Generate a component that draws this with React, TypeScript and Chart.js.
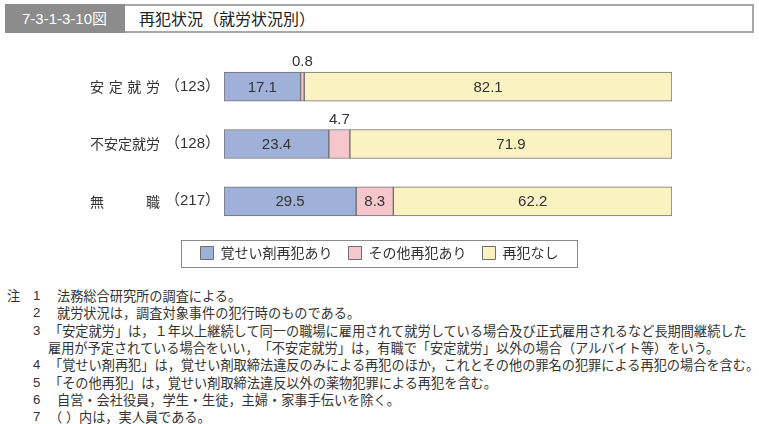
import React, { useEffect, useRef } from "react";
import { Chart, registerables } from "chart.js";

Chart.register(...registerables);

const categories = ["安定就労", "不安定就労", "無職"];
const counts = [123, 128, 217];
const seriesNames = ["覚せい剤再犯あり", "その他再犯あり", "再犯なし"];
const stimulantReoffense = [17.1, 23.4, 29.5];
const otherReoffense = [0.8, 4.7, 8.3];
const noReoffense = [82.1, 71.9, 62.2];
const seriesColors = ["#9fb1d8", "#f6c6cd", "#faf2c0"];

const notes = [
  { num: "1", parts: [{ t: "法務総合研究所の調査による。", x: 57 }] },
  { num: "2", parts: [{ t: "就労状況は，調査対象事件の犯行時のものである。", x: 57 }] },
  { num: "3", parts: [{ t: "「安定就労」は，１年以上継続して同一の職場に雇用されて就労している場合及び正式雇用されるなど長期間継続した", x: 49 }] },
  { num: "", parts: [{ t: "雇用が予定されている場合をいい，「不安定就労」は，有職で「安定就労」以外の場合（アルバイト等）をいう。", x: 48 }] },
  { num: "4", parts: [{ t: "「覚せい剤再犯」は，覚せい剤取締法違反のみによる再犯のほか，これとその他の罪名の犯罪による再犯の場合を含む。", x: 49 }] },
  { num: "5", parts: [{ t: "「その他再犯」は，覚せい剤取締法違反以外の薬物犯罪による再犯を含む。", x: 49 }] },
  { num: "6", parts: [{ t: "自営・会社役員，学生・生徒，主婦・家事手伝いを除く。", x: 57 }] },
  { num: "7", parts: [{ t: "（", x: 49 }, { t: "）", x: 66 }, { t: "内は，実人員である。", x: 79 }] },
];

const FONT = "'Liberation Sans', 'Noto Sans CJK JP', sans-serif";
const CJK = "'Noto Sans CJK JP', sans-serif";

const labelPlugin = {
  id: "customLabels",
  afterDraw(chart: any) {
    const ctx = chart.ctx;
    const yScale = chart.scales.y;
    ctx.save();
    ctx.fillStyle = "#333";
    ctx.textBaseline = "middle";
    categories.forEach((name, i) => {
      const y = yScale.getPixelForValue(i);
      ctx.font = `14px ${CJK}`;
      const chars = Array.from(name);
      const left = 90;
      const right = 160;
      const cw = 14;
      const gap = chars.length > 1 ? (right - left - chars.length * cw) / (chars.length - 1) : 0;
      ctx.textAlign = "left";
      chars.forEach((c, k) => {
        ctx.fillText(c, left + k * (cw + gap), y);
      });
      ctx.font = `15px ${FONT}`;
      ctx.fillText("（" + counts[i] + "）", 165, y);
    });
    ctx.font = `15px ${FONT}`;
    ctx.textAlign = "center";
    chart.data.datasets.forEach((ds: any, di: number) => {
      const meta = chart.getDatasetMeta(di);
      meta.data.forEach((el: any, i: number) => {
        const v = ds.data[i];
        const cx = (el.x + el.base) / 2;
        const text = v.toFixed(1);
        if (v < 5) {
          ctx.fillText(text, cx, el.y - el.height / 2 - 10);
        } else {
          ctx.fillText(text, cx, el.y + 1);
        }
      });
    });
    const lg = chart.legend;
    if (lg && lg.legendHitBoxes && lg.legendHitBoxes.length) {
      const hb = lg.legendHitBoxes;
      const first = hb[0];
      const last = hb[hb.length - 1];
      const x0 = first.left - 20;
      const x1 = last.left + last.width + 18;
      const y0 = first.top - 6.5;
      const y1 = first.top + first.height + 6.5;
      ctx.strokeStyle = "#8a8a8a";
      ctx.lineWidth = 1;
      ctx.strokeRect(Math.round(x0) + 0.5, Math.round(y0) + 0.5, Math.round(x1 - x0), Math.round(y1 - y0));
    }
    ctx.restore();
  },
};

function BarChart() {
  const ref = useRef<HTMLCanvasElement | null>(null);
  useEffect(() => {
    if (!ref.current) return;
    const chart = new Chart(ref.current, {
      type: "bar",
      data: {
        labels: categories,
        datasets: [
          { label: seriesNames[0], data: stimulantReoffense, backgroundColor: seriesColors[0] },
          { label: seriesNames[1], data: otherReoffense, backgroundColor: seriesColors[1] },
          { label: seriesNames[2], data: noReoffense, backgroundColor: seriesColors[2] },
        ].map((d) => ({
          ...d,
          borderColor: "#6e6e6e",
          borderWidth: 1,
          borderSkipped: false,
          barThickness: 29,
        })),
      },
      options: {
        indexAxis: "y",
        animation: false,
        responsive: false,
        maintainAspectRatio: false,
        layout: { padding: { top: 18, bottom: 2, left: 0, right: 0 } },
        scales: {
          x: {
            stacked: true,
            min: 0,
            max: 100,
            display: false,
          },
          y: {
            stacked: true,
            position: "left",
            ticks: { display: false },
            grid: { display: false },
            border: { display: false },
            afterFit(scale: any) {
              scale.width = 224;
            },
          },
          y2: {
            type: "category",
            position: "right",
            ticks: { display: false },
            grid: { display: false },
            border: { display: false },
            afterFit(scale: any) {
              scale.width = 87;
            },
          },
        },
        plugins: {
          tooltip: { enabled: false },
          legend: {
            display: true,
            position: "bottom",
            labels: {
              boxWidth: 13,
              boxHeight: 13,
              padding: 16,
              color: "#333",
              font: { size: 14, family: CJK },
            },
          },
        },
      } as any,
      plugins: [labelPlugin],
    });
    return () => chart.destroy();
  }, []);
  return <canvas ref={ref} width={759} height={232} style={{ display: "block", width: 759, height: 232 }} />;
}

const noteStyle: any = {
  position: "absolute",
  fontSize: 13.2,
  lineHeight: "18px",
  color: "#333",
  whiteSpace: "nowrap",
  textSpacingTrim: "space-all",
};

export default function App() {
  const top0 = 296;
  const step = 17.3;
  return (
    <div style={{ position: "absolute", left: 0, top: 0, width: 759, height: 424, background: "#fff", fontFamily: CJK, overflow: "hidden" }}>
      <div style={{ position: "absolute", left: 5, top: 4, width: 120, height: 29, background: "#8c8c8c", color: "#fff", fontSize: 15, fontFamily: FONT, lineHeight: "29px", paddingLeft: 17, boxSizing: "border-box" }}>
        7-3-1-3-10図
      </div>
      <div style={{ position: "absolute", left: 125, top: 4, width: 629, height: 29, border: "2px solid #a8a8a8", borderLeft: "none", boxSizing: "border-box", color: "#222", fontSize: 16, lineHeight: "25px", paddingLeft: 14 }}>
        再犯状況（就労状況別）
      </div>
      <div style={{ position: "absolute", left: 0, top: 40 }}>
        <BarChart />
      </div>
      {notes.map((n, i) => (
        <React.Fragment key={i}>
          {i === 0 && <div style={{ ...noteStyle, left: 7, top: top0 - 9 }}>注</div>}
          {n.num && (
            <div style={{ ...noteStyle, left: 33, top: top0 + i * step - 9, fontFamily: FONT }}>{n.num}</div>
          )}
          {n.parts.map((p, k) => (
            <div key={k} style={{ ...noteStyle, left: p.x, top: top0 + i * step - 9 }}>{p.t}</div>
          ))}
        </React.Fragment>
      ))}
    </div>
  );
}
